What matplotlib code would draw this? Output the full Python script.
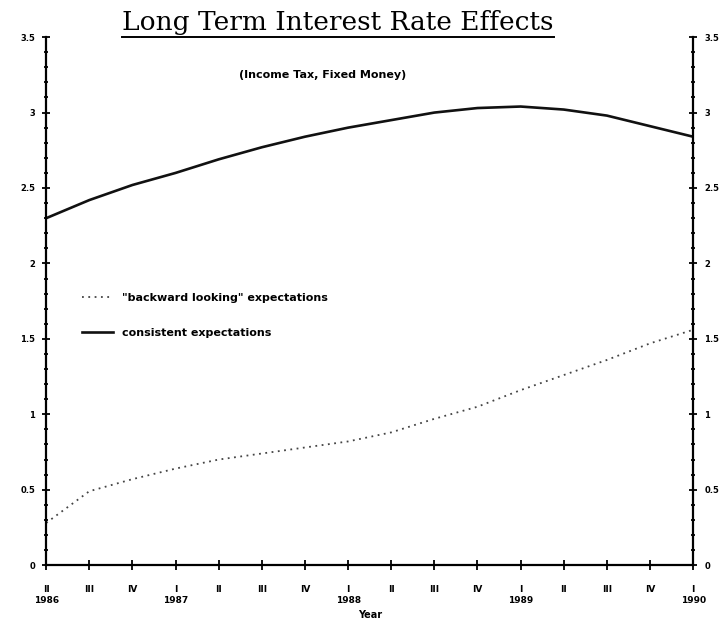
import numpy as np
import matplotlib
matplotlib.use('Agg')
import matplotlib.pyplot as plt
from matplotlib.ticker import MultipleLocator, FormatStrFormatter
from matplotlib.lines import Line2D

# quarters from 1986 II to 1990 I
quarters = ['II\n1986', 'III', 'IV', 'I\n1987', 'II', 'III', 'IV', 'I\n1988',
            'II', 'III', 'IV', 'I\n1989', 'II', 'III', 'IV', 'I\n1990']

# values
consistent = [2.30, 2.42, 2.52, 2.60, 2.69, 2.77, 2.84, 2.90,
              2.95, 3.00, 3.03, 3.04, 3.02, 2.98, 2.91, 2.84]
backward = [0.28, 0.49, 0.57, 0.64, 0.70, 0.74, 0.78, 0.82,
            0.88, 0.97, 1.05, 1.16, 1.26, 1.36, 1.47, 1.56]

x = np.arange(len(quarters))

fig = plt.figure(figsize=(7.22, 6.19), dpi=100)
ax = fig.add_axes([0.064, 0.087, 0.896, 0.853])

ax.plot(x, backward, color='#444444', linestyle=(0, (1, 2.5)), linewidth=1.3,
        label='"backward looking" expectations')
ax.plot(x, consistent, color='#111111', linewidth=1.9,
        label='consistent expectations')

ax.set_xlim(0, len(quarters) - 1)
ax.set_ylim(0, 3.5)
ax.set_xticks(x)
ax.set_xticklabels(quarters, fontsize=6.5, fontweight='bold', linespacing=1.3)
ax.yaxis.set_major_locator(MultipleLocator(0.5))
ax.yaxis.set_minor_locator(MultipleLocator(0.1))
ax.yaxis.set_major_formatter(FormatStrFormatter('%g'))

ax.spines['top'].set_visible(False)
for s in ['left', 'right', 'bottom']:
    ax.spines[s].set_linewidth(1.6)
ax.tick_params(axis='y', which='both', direction='inout', right=True,
               labelright=True, labelsize=6, width=1.3, pad=5)
ax.tick_params(axis='y', which='major', length=6)
ax.tick_params(axis='y', which='minor', length=3)
for lab in ax.get_yticklabels():
    lab.set_fontweight('bold')
ax.tick_params(axis='x', direction='inout', length=7, width=1.3, pad=11)

ax.set_xlabel('Year', fontsize=7, fontweight='bold', labelpad=3)

ax.text(0.428, 0.928, '(Income Tax, Fixed Money)', transform=ax.transAxes,
        ha='center', va='center', fontsize=8, fontweight='bold')

ax.legend(loc='upper left', bbox_to_anchor=(0.04, 0.535), frameon=False,
          prop={'weight': 'bold', 'size': 8}, labelspacing=2.3,
          handlelength=2.8, handletextpad=0.8)

title = fig.text(0.468, 0.952, 'Long Term Interest Rate Effects',
                 ha='center', va='baseline', fontsize=19,
                 family='DejaVu Serif')

# underline the title
fig.canvas.draw()
bb = title.get_window_extent().transformed(fig.transFigure.inverted())
fig.add_artist(Line2D([bb.x0, bb.x1], [bb.y0 - 0.003, bb.y0 - 0.003],
                      transform=fig.transFigure, color='black', linewidth=1.4))

plt.savefig('out.png', dpi=100)
